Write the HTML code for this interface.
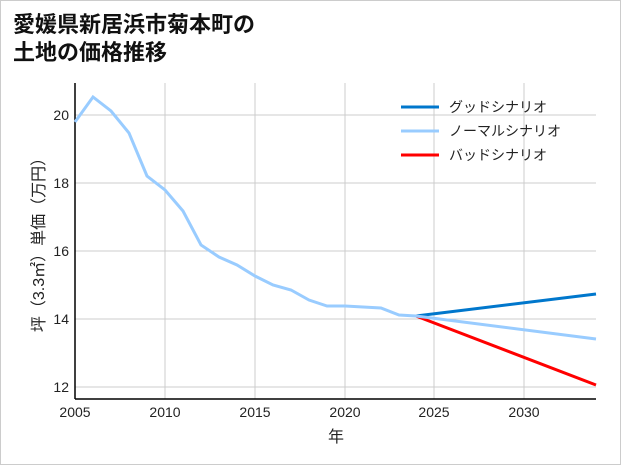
<!DOCTYPE html>
<html><head><meta charset="utf-8"><style>
body{margin:0;background:#fff}
.w{width:619px;height:463px;border:1px solid #ccc;position:relative;font-family:"Liberation Sans","Noto Sans CJK JP",sans-serif}
</style></head><body><div class="w">
<svg width="619" height="463" style="position:absolute;left:0;top:0" font-family="Liberation Sans,Noto Sans CJK JP,sans-serif">
<text x="12" y="31" font-size="22" font-weight="bold" fill="#111">愛媛県新居浜市菊本町の</text>
<text x="12" y="59" font-size="22" font-weight="bold" fill="#111">土地の価格推移</text>
<g stroke="#ccc" stroke-width="1">
<line x1="164" y1="82" x2="164" y2="398"/><line x1="254" y1="82" x2="254" y2="398"/><line x1="344" y1="82" x2="344" y2="398"/><line x1="433" y1="82" x2="433" y2="398"/><line x1="523" y1="82" x2="523" y2="398"/>
<line x1="74" y1="114" x2="595" y2="114"/><line x1="74" y1="182" x2="595" y2="182"/><line x1="74" y1="250" x2="595" y2="250"/><line x1="74" y1="318" x2="595" y2="318"/><line x1="74" y1="386" x2="595" y2="386"/>
</g>
<line x1="74" y1="82" x2="74" y2="398" stroke="#000" stroke-width="1.5"/>
<line x1="74" y1="398" x2="595" y2="398" stroke="#000" stroke-width="1.5"/>
<g font-size="14" fill="#222" text-anchor="end">
<text x="68" y="119">20</text><text x="68" y="187">18</text><text x="68" y="255">16</text><text x="68" y="323">14</text><text x="68" y="391">12</text></g>
<g font-size="14" fill="#222" text-anchor="middle">
<text x="74" y="416">2005</text><text x="164" y="416">2010</text><text x="254" y="416">2015</text><text x="344" y="416">2020</text><text x="433" y="416">2025</text><text x="523" y="416">2030</text>
<text x="335" y="441" font-size="16">年</text></g>
<text transform="translate(43,240) rotate(-90)" font-size="16" fill="#222" text-anchor="middle">坪（3.3㎡）単価（万円）</text>
<polyline fill="none" stroke="#0077cc" stroke-width="3" points="415,315 595,293"/>
<polyline fill="none" stroke="#f00" stroke-width="3" points="415,315 595,384"/>
<polyline fill="none" stroke="#99ccff" stroke-width="3" points="74,121 92,96 110,110 128,132 146,175 164,189 182,210 200,244 218,256 236,264 254,275 272,284 290,289 308,299 326,305 344,305 362,306 380,307 398,314 415,315 595,338"/>
<line x1="400" y1="106" x2="438" y2="106" stroke="#0077cc" stroke-width="3"/>
<line x1="400" y1="130" x2="438" y2="130" stroke="#99ccff" stroke-width="3"/>
<line x1="400" y1="154" x2="438" y2="154" stroke="#f00" stroke-width="3"/>
<g font-size="14" fill="#222"><text x="448" y="111">グッドシナリオ</text><text x="448" y="135">ノーマルシナリオ</text><text x="448" y="159">バッドシナリオ</text></g>
</svg></div></body></html>
